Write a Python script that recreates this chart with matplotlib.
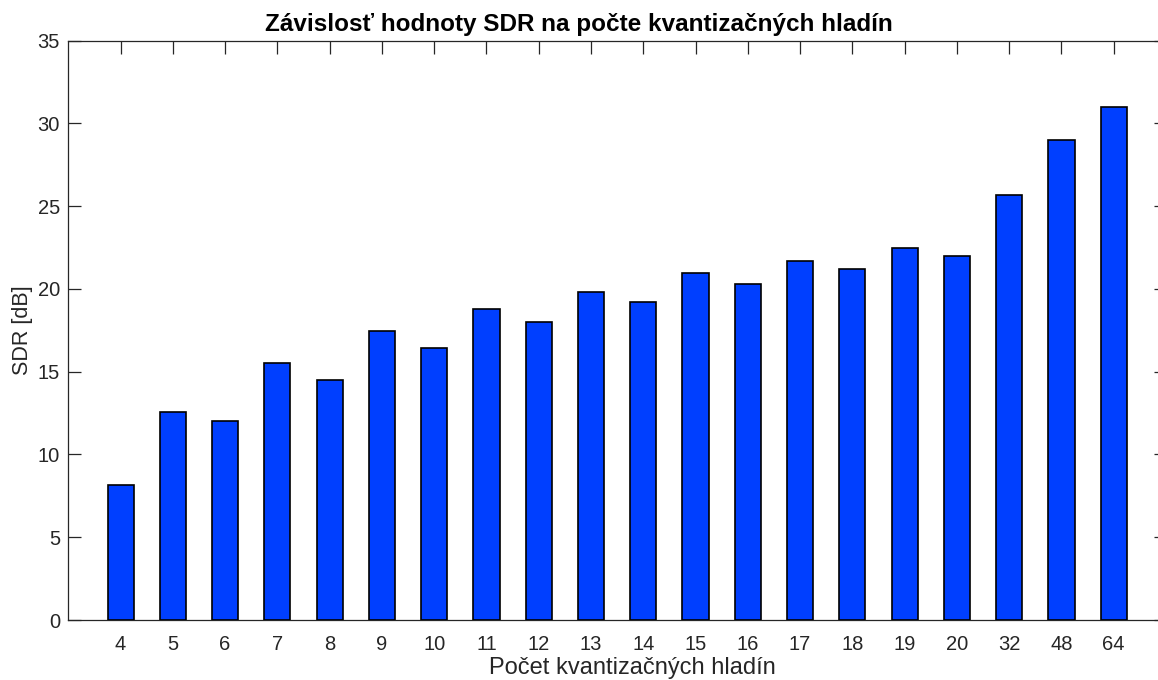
import matplotlib
matplotlib.use("Agg")
import matplotlib.pyplot as plt
import numpy as np

levels = ["4", "5", "6", "7", "8", "9", "10", "11", "12", "13", "14", "15", "16",
          "17", "18", "19", "20", "32", "48", "64"]
sdr_db = [8.14, 12.57, 12.02, 15.51, 14.52, 17.46, 16.42, 18.79, 18.01, 19.80,
          19.20, 20.95, 20.32, 21.69, 21.23, 22.46, 21.99, 25.68, 29.00, 31.02]
yticks = [0, 5, 10, 15, 20, 25, 30, 35]

W, H = 1158, 680
fig = plt.figure(figsize=(W / 100, H / 100), dpi=100)
plt.rcParams['font.family'] = ['Liberation Sans', 'DejaVu Sans']

left, right, top, bottom = 68.3, 1166.0, 40.7, 620.0
ax = fig.add_axes([left / W, 1 - bottom / H, (right - left) / W, (bottom - top) / H])

gray = '#262626'
x = np.arange(1, len(levels) + 1)
ax.bar(x, sdr_db, width=0.5, color='#003FFF', edgecolor='black', linewidth=1.2, zorder=3)

ax.set_xlim(0, len(levels) + 1)
ax.set_ylim(0, 35)
ax.set_xticks(x)
ax.set_xticklabels(levels)
ax.set_yticks(yticks)
ax.tick_params(direction='in', length=9, width=0.9, colors=gray, labelsize=14.5,
               top=True, right=True)
ax.tick_params(axis='x', pad=10.5)
ax.tick_params(axis='y', pad=6)
for s in ax.spines.values():
    s.set_color(gray)
    s.set_linewidth(0.9)

fig.text(579 / W, 1 - 24 / H, "Závislosť hodnoty SDR na počte kvantizačných hladín",
         ha='center', va='center', fontsize=17.5, fontweight='bold', color='black')
fig.text(632 / W, 1 - 668 / H, "Počet kvantizačných hladín", ha='center', va='center',
         fontsize=17, color=gray)
fig.text(22.5 / W, 1 - 330 / H, "SDR [dB]", ha='center', va='center', rotation=90,
         fontsize=15.5, color=gray)

fig.savefig("out.png", dpi=100)
